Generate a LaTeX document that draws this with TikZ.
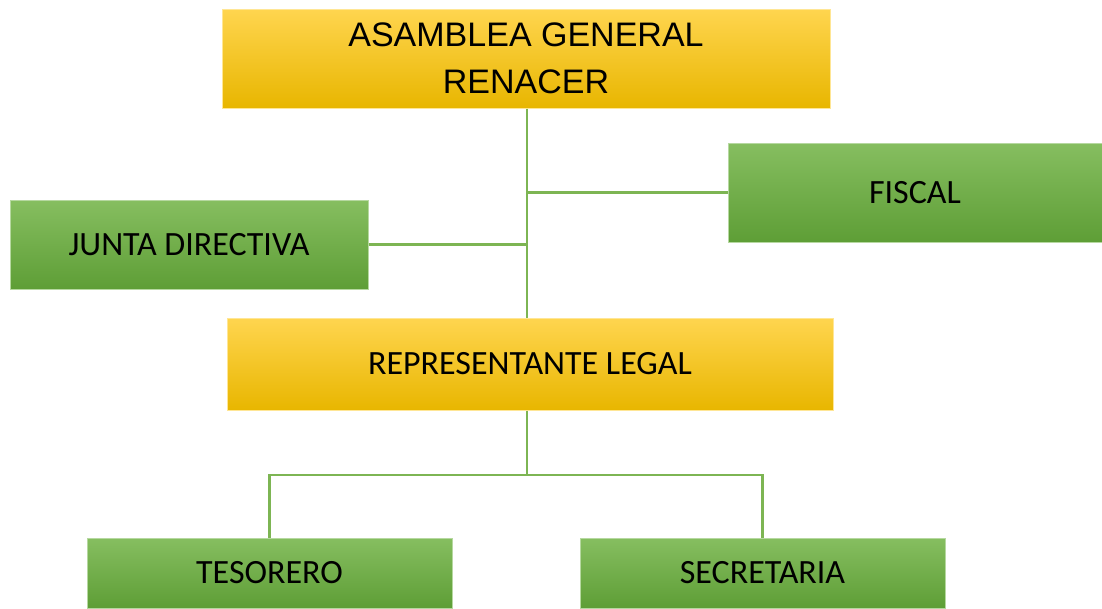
\documentclass[tikz,border=0pt]{standalone}
\usepackage{fontspec}
\setmainfont{Carlito}
\newfontfamily\arialfont{Liberation Sans}
\usetikzlibrary{positioning}
\definecolor{yelTop}{HTML}{FFD54F}
\definecolor{yelMid}{HTML}{FFC000}
\definecolor{yelBot}{HTML}{E8B600}
\definecolor{grnTop}{HTML}{86BE60}
\definecolor{grnMid}{HTML}{70AD47}
\definecolor{grnBot}{HTML}{5E9E36}
\definecolor{linkGreen}{HTML}{7DB553}
\tikzset{
	yelbox/.style={draw=yelTop!60, line width=1pt, top color=yelTop, middle color=yelMid, bottom color=yelBot, inner sep=0pt},
	grnbox/.style={draw=grnTop!60, line width=1pt, top color=grnTop, middle color=grnMid, bottom color=grnBot, inner sep=0pt, font=\fontsize{34}{40}\selectfont},
	link/.style={draw=linkGreen, line width=2.5pt}
}

\begin{document}
\begin{tikzpicture}[x=1pt, y=-1pt]
		%%%%% START %%%%%
		\useasboundingbox[fill=white] (0, 0) rectangle (1102, 608);
		
		\node[yelbox, minimum width=608pt, minimum height=99pt, align=center, font=\arialfont\fontsize{34}{47}\selectfont] (asamblea) at (526, 58.5) {ASAMBLEA GENERAL\\RENACER};
		\node[grnbox, minimum width=374pt, minimum height=99pt] (fiscal) at (915, 192.5) {FISCAL};
		\node[grnbox, minimum width=358pt, minimum height=89pt] (junta) at (189, 244.5) {JUNTA DIRECTIVA};
		\node[yelbox, minimum width=606pt, minimum height=92pt, font=\fontsize{34}{40}\selectfont] (repr) at (530, 364) {REPRESENTANTE LEGAL};
		
		\node[grnbox, minimum width=365pt, minimum height=70pt] (tesorero) at (269.5, 573) {TESORERO};
		\node[grnbox, minimum width=365pt, minimum height=70pt] (secretaria) at (762.5, 573) {SECRETARIA};
		
		% lineas
		\coordinate (tronco) at (527, 108);
		\coordinate (bus) at (527, 475);
		\draw[link] (asamblea.south -| tronco) -- (repr.north -| tronco);
		\draw[link] (fiscal.west) -- (fiscal.west -| tronco);
		\draw[link] (junta.east) -- (junta.east -| tronco);
		\draw[link] (repr.south -| bus) -- (bus);
		\draw[link] (tesorero.north) |- (bus) -| (secretaria.north);
		
		%%%%% END %%%%%
	\end{tikzpicture}
\end{document}
